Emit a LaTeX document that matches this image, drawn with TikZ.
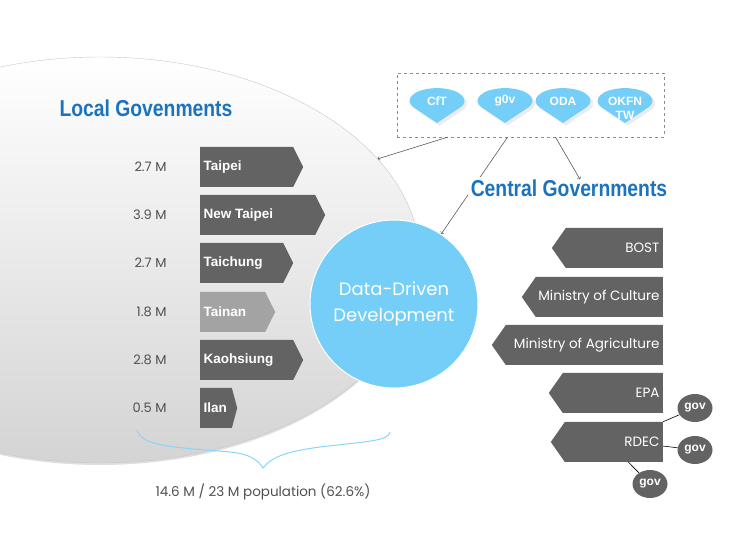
\documentclass[tikz,border=0pt]{standalone}
\usepackage{fontspec}
\setmainfont{Liberation Sans}
\newfontfamily\gothic{Poppins}
\newfontfamily\narrow[FakeStretch=0.84]{Liberation Sans}
\usetikzlibrary{shapes,arrows,positioning,shadows,calc}
\definecolor{boxgray}{RGB}{99,99,99}
\definecolor{palegray}{RGB}{163,163,163}
\definecolor{skyblue}{RGB}{116,206,248}
\definecolor{titleblue}{RGB}{27,115,191}
\definecolor{textgray}{RGB}{80,80,80}

\tikzset{
  localbox/.style={signal, signal to=east, signal pointer angle=127, fill=boxgray,
    minimum height=40, anchor=west, inner sep=0},
  centralbox/.style={signal, signal to=west, signal pointer angle=110, fill=boxgray,
    minimum height=40, anchor=east, inner sep=0},
  boxtext/.style={text=white, font=\bfseries\fontsize{13.5}{16}\selectfont},
  ctext/.style={text=white, font=\gothic\fontsize{13.5}{16}\selectfont},
  popnum/.style={font=\gothic\fontsize{13}{15}\selectfont, text=textgray, anchor=east},
  heading/.style={font=\narrow\bfseries\fontsize{23}{26}\selectfont, text=titleblue},
  govbubble/.style={ellipse, fill=boxgray, text=white, font=\bfseries\fontsize{12}{14}\selectfont,
    minimum width=35, minimum height=28, inner sep=0},
  orglabel/.style={text=white, font=\bfseries\fontsize{12}{13}\selectfont, align=center},
  link/.style={->, draw=black!65, line width=0.6pt},
  droplet/.pic={\fill[skyblue, drop shadow={opacity=0.15}] (0,23) -- (-24,7)
      .. controls (-32,1) and (-27,-11) .. (0,-12)
      .. controls (27,-11) and (32,1) .. (24,7) -- cycle;}
}

\begin{document}
\begin{tikzpicture}[x=1pt,y=-1pt]
\useasboundingbox (0,0) rectangle (756,553);
\clip (0,0) rectangle (756,553);

% local area
\node[ellipse, minimum width=640, minimum height=406, top color=white, bottom color=black!17,
  draw=black!22, line width=0.4pt, drop shadow={opacity=0.25, shadow xshift=0pt, shadow yshift=-2pt}]
  (localarea) at (100,260) {};
\node[heading] (localtitle) at (146,108) {Local Govenments};

% cities
\node[localbox, minimum width=103, label={[boxtext,anchor=west]west:Taipei}] (taipei) at (200,167) {};
\node[localbox, minimum width=125, label={[boxtext,anchor=west]west:New Taipei}] (newtaipei) at (200,215) {};
\node[localbox, minimum width=93, label={[boxtext,anchor=west]west:Taichung}] (taichung) at (200,263) {};
\node[localbox, minimum width=75, fill=palegray, label={[boxtext,anchor=west]west:Tainan}] (tainan) at (200,312) {};
\node[localbox, minimum width=103, label={[boxtext,anchor=west]west:Kaohsiung}] (kaohsiung) at (200,360) {};
\node[localbox, minimum width=37, signal pointer angle=150, label={[boxtext,anchor=west]west:Ilan}] (ilan) at (200,408) {};

\node[popnum] (poptaipei) at (170,167) {2.7 M};
\node[popnum] (popnewtaipei) at (170,215) {3.9 M};
\node[popnum] (poptaichung) at (170,263) {2.7 M};
\node[popnum] (poptainan) at (170,312) {1.8 M};
\node[popnum] (popkaohsiung) at (170,360) {2.8 M};
\node[popnum] (popilan) at (170,408) {0.5 M};

% brace and total
\draw[skyblue!85!white, line width=1pt] (137,430) .. controls (142,446) and (170,447) .. (230,452)
  .. controls (250,454) and (258,460) .. (263,468)
  .. controls (272,456) and (290,451) .. (320,447)
  .. controls (370,441) and (388,441) .. (390,432);
\node[font=\gothic\fontsize{13.5}{16}\selectfont, text=textgray] (total) at (263,492)
  {14.6 M / 23 M population (62.6\%)};

% core
\node[circle, minimum size=168, fill=skyblue, draw=white, line width=1pt, text=white, align=center,
  font=\gothic\fontsize{18}{26}\selectfont] (ddd) at (394,304) {Data-Driven\\Development};

% communities
\node[draw=black!45, dashed, minimum width=267, minimum height=64] (orgs) at (530.5,105) {};
\pic at (437,100) {droplet};
\pic at (505,100) {droplet};
\pic at (563,100) {droplet};
\pic at (625,100) {droplet};
\node[orglabel] (cft) at (437,101) {CfT};
\node[orglabel] (gzv) at (505,101) {g0v};
\node[orglabel] (oda) at (563,101) {ODA};
\node[orglabel, font=\bfseries\fontsize{12}{14}\selectfont] (okfn) at (625,108) {OKFN\\TW};

\draw[link] ($(orgs.south)+(-83,0)$) -- (localarea.20);
\draw[link] ($(orgs.south)+(-23,0)$) -- (ddd.56);
\node[heading, fill=white, inner sep=3pt] (centraltitle) at (569,188) {Central Governments};
\draw[link] ($(orgs.south)+(25,0)$) -- ($(centraltitle.north)+(11,3)$);

% central
\node[centralbox, minimum width=111, label={[ctext,anchor=east]east:BOST}] (bost) at (663,248) {};
\node[centralbox, minimum width=141, label={[ctext,anchor=east]east:Ministry of Culture}] (culture) at (663,297) {};
\node[centralbox, minimum width=171, label={[ctext,anchor=east]east:Ministry of Agriculture}] (agri) at (663,345) {};
\node[centralbox, minimum width=114, label={[ctext,anchor=east]east:EPA}] (epa) at (663,393) {};
\node[centralbox, minimum width=112, label={[ctext,anchor=east]east:RDEC}] (rdec) at (663,442) {};

\node[govbubble] (govone) at (695,408) {gov};
\node[govbubble] (govtwo) at (695,450) {gov};
\node[govbubble] (govthree) at (650,484) {gov};
\draw[black, line width=0.6pt] (govone) -- (rdec.north east);
\draw[black, line width=0.6pt] (govtwo) -- ($(rdec.east)+(0,4)$);
\draw[black, line width=0.6pt] (govthree) -- ($(rdec.south east)+(-35,0)$);
\end{tikzpicture}
\end{document}
